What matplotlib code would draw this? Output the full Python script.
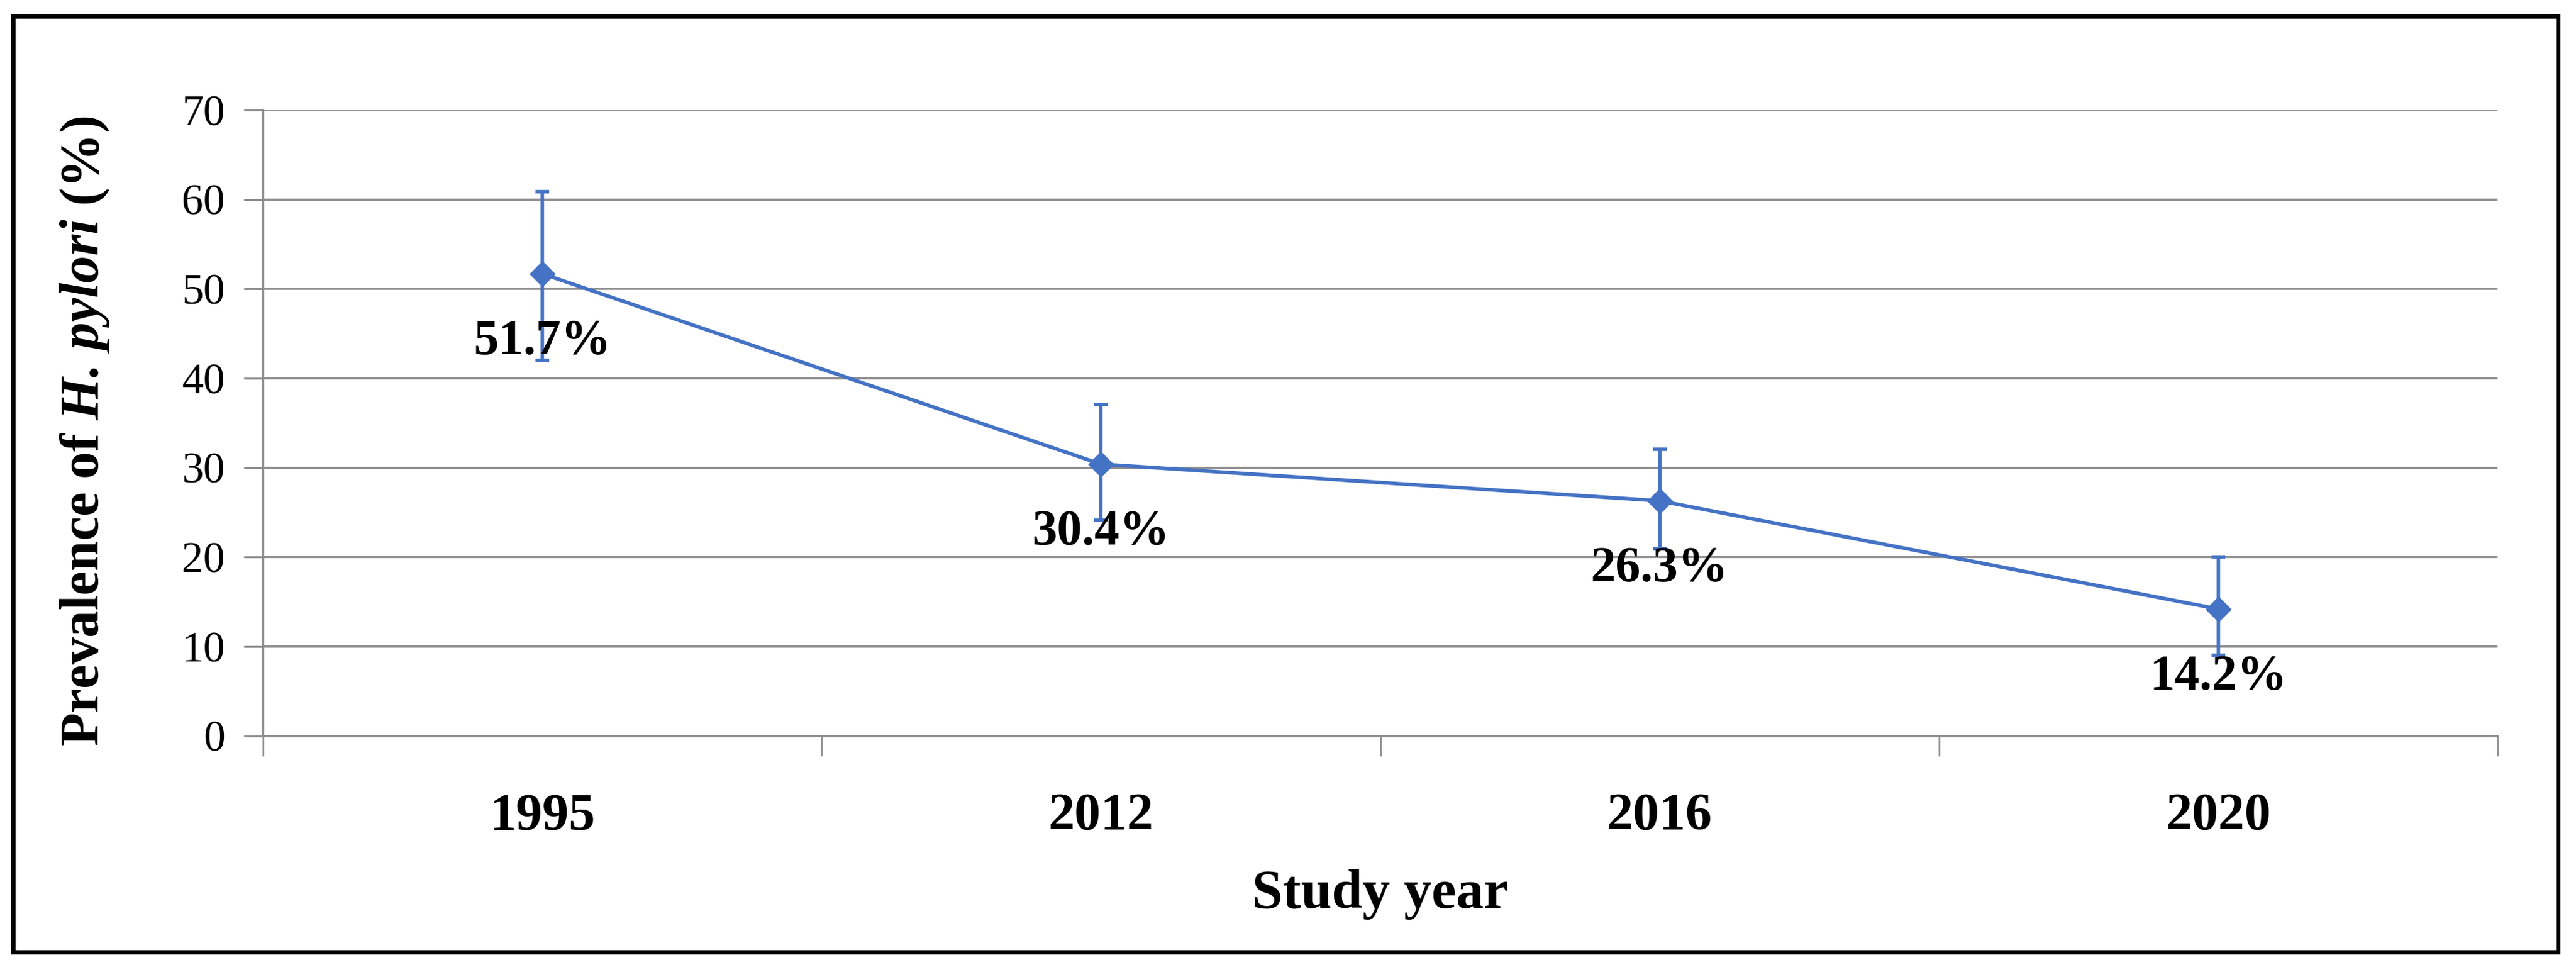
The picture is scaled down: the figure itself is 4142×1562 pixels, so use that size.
import numpy as np
import matplotlib
matplotlib.use("Agg")
import matplotlib.pyplot as plt
from matplotlib.patches import Rectangle

years = ["1995", "2012", "2016", "2020"]
prevalence = [51.7, 30.4, 26.3, 14.2]
ci_low = [42.0, 24.1, 20.9, 9.0]
ci_high = [60.9, 37.1, 32.1, 20.0]
yticks = [0, 10, 20, 30, 40, 50, 60, 70]

plt.rcParams['font.family'] = ['Liberation Serif', 'DejaVu Serif']
plt.rcParams['mathtext.fontset'] = 'custom'
plt.rcParams['mathtext.rm'] = 'Liberation Serif'
plt.rcParams['mathtext.bf'] = 'Liberation Serif:bold'
plt.rcParams['mathtext.it'] = 'Liberation Serif:italic'
plt.rcParams['mathtext.bfit'] = 'Liberation Serif:bold:italic'

W, H = 4142, 1562
fig = plt.figure(figsize=(W / 100, H / 100), dpi=100)
ax = fig.add_axes([423 / W, 1 - 1182.7 / H, (4016 - 423) / W, (1182.7 - 177) / H])

blue = "#4472C4"
grey = "#8c8c8c"
x = np.arange(len(years))
prev = np.array(prevalence)
yerr = [prev - np.array(ci_low), np.array(ci_high) - prev]

ax.errorbar(x, prev, yerr=yerr, color=blue, lw=4.2, marker='D', ms=20,
            mec=blue, mfc=blue, ecolor=blue, elinewidth=4, capsize=8,
            capthick=4, zorder=3)

for xi, v in zip(x, prevalence):
    ax.annotate(f"{v}%", (xi, v), xytext=(0, -93), textcoords='offset points',
                ha='center', va='baseline', fontsize=58, fontweight='bold',
                zorder=4)

ax.set_xlim(-0.5, len(years) - 0.5)
ax.set_ylim(0, 70)
ax.set_yticks(yticks)
ax.set_yticklabels([str(t) for t in yticks], fontsize=50)
ax.tick_params(axis='y', length=22, width=2.2, color=grey, pad=22)
ax.yaxis.grid(True, color=grey, lw=2.6)
ax.set_axisbelow(True)

ax.set_xticks(x)
ax.set_xticklabels(years, fontsize=61, fontweight='bold')
ax.set_xticks(np.arange(len(years) + 1) - 0.5, minor=True)
ax.tick_params(axis='x', which='major', length=0, pad=66)
ax.tick_params(axis='x', which='minor', length=23, width=1.8, color=grey)

for s in ['top', 'right']:
    ax.spines[s].set_visible(False)
for s in ['left', 'bottom']:
    ax.spines[s].set_color(grey)
    ax.spines[s].set_linewidth(2.6)

fig.text(137 / W, 1 - 693 / H, r"Prevalence of $\mathbfit{H.\,pylori}$ (%)",
         rotation=90, ha='center', va='center', fontsize=63, fontweight='bold')
fig.text(2219 / W, 1 - 1459 / H, "Study year", ha='center', va='baseline',
         fontsize=64, fontweight='bold')

fig.patches.append(Rectangle((21 / W, 1 - 1530 / H), (4113 - 21) / W,
                             (1530 - 26) / H, transform=fig.transFigure,
                             fill=False, ec='black', lw=5))

fig.savefig("out.png", dpi=100)
